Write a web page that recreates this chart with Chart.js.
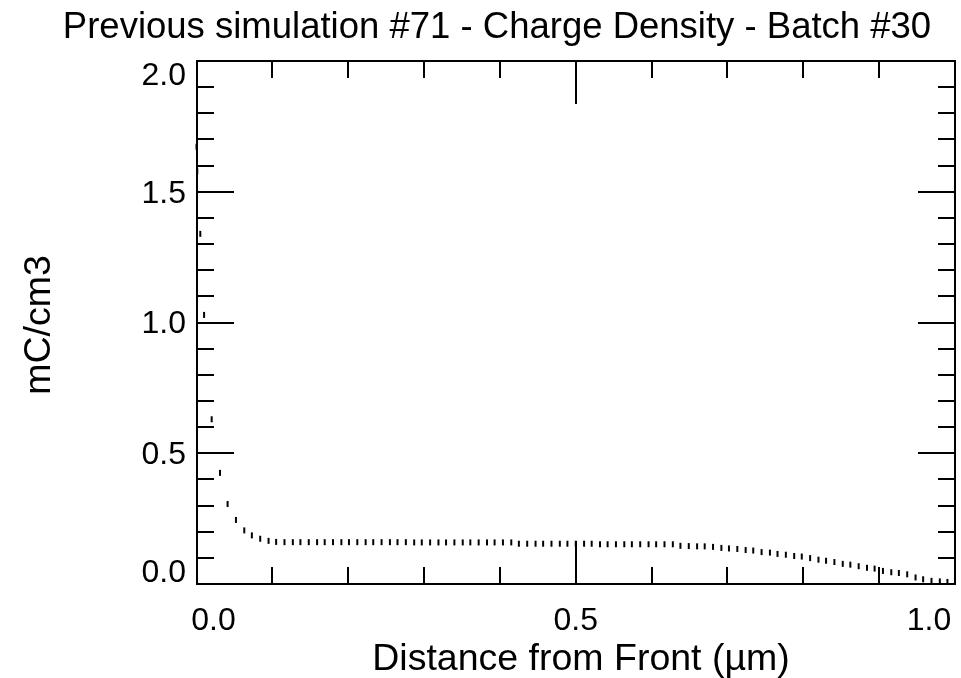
<!DOCTYPE html>
<html>
<head>
<meta charset="utf-8">
<title>Charge Density - Batch #30</title>
<script src="https://cdn.jsdelivr.net/npm/chart.js@4.4.0/dist/chart.umd.min.js"></script>
<style>
    html, body { margin: 0; padding: 0; background: #fff; }
    #chart { display: block; }
</style>
</head>
<body>
<canvas id="chart" width="961" height="678"></canvas>
<script>
// distance from front (um) and charge density (mC/cm3)
const distance = [
    0.000, 0.001, 0.005, 0.010,
    0.020, 0.031, 0.041, 0.052, 0.063, 0.073, 0.084, 0.095, 0.105, 0.116,
    0.127, 0.137, 0.148, 0.159, 0.169, 0.180, 0.191, 0.201, 0.212, 0.223,
    0.233, 0.244, 0.255, 0.265, 0.276, 0.287, 0.297, 0.308, 0.319, 0.329,
    0.340, 0.351, 0.361, 0.372, 0.383, 0.393, 0.404, 0.415, 0.425, 0.436,
    0.447, 0.457, 0.468, 0.479, 0.489, 0.500, 0.511, 0.521, 0.532, 0.542,
    0.553, 0.564, 0.574, 0.585, 0.596, 0.606, 0.617, 0.628, 0.638, 0.649,
    0.660, 0.670, 0.681, 0.692, 0.702, 0.713, 0.724, 0.734, 0.745, 0.756,
    0.766, 0.777, 0.788, 0.798, 0.809, 0.820, 0.830, 0.841, 0.852, 0.862,
    0.873, 0.884, 0.894, 0.905, 0.916, 0.926, 0.937, 0.948, 0.958, 0.969,
    0.980, 0.990
];
const density = [
    1.672, 1.578, 1.339, 1.029,
    0.630, 0.425, 0.306, 0.245, 0.205, 0.186, 0.173, 0.165, 0.161, 0.160,
    0.160, 0.160, 0.160, 0.160, 0.160, 0.160, 0.160, 0.160, 0.160, 0.160,
    0.160, 0.160, 0.160, 0.160, 0.160, 0.159, 0.159, 0.159, 0.159, 0.159,
    0.159, 0.159, 0.159, 0.159, 0.159, 0.159, 0.159, 0.159, 0.154, 0.154,
    0.154, 0.154, 0.154, 0.154, 0.154, 0.154, 0.154, 0.154, 0.152, 0.152,
    0.152, 0.152, 0.152, 0.152, 0.152, 0.152, 0.152, 0.152, 0.146, 0.145,
    0.144, 0.144, 0.142, 0.138, 0.136, 0.134, 0.130, 0.128, 0.122, 0.120,
    0.115, 0.112, 0.107, 0.105, 0.099, 0.093, 0.089, 0.084, 0.077, 0.074,
    0.068, 0.062, 0.059, 0.050, 0.045, 0.042, 0.037, 0.025, 0.018, 0.012,
    0.010, 0.008
];

const xTickValues = [0, 0.1, 0.2, 0.3, 0.4, 0.5, 0.6, 0.7, 0.8, 0.9, 1.0];
const xMajorTicks = [0, 0.5, 1.0];
const xTickLabels = ['0.0', '0.5', '1.0'];

const yTickValues = [0, 0.1, 0.2, 0.3, 0.4, 0.5, 0.6, 0.7, 0.8, 0.9, 1.0,
    1.1, 1.2, 1.3, 1.4, 1.5, 1.6, 1.7, 1.8, 1.9, 2.0];
const yMajorTicks = [0, 0.5, 1.0, 1.5, 2.0];
const yTickLabels = ['0.0', '0.5', '1.0', '1.5', '2.0'];

const chartTitle = 'Previous simulation #71 - Charge Density - Batch #30';
const xTitle = 'Distance from Front (\u00b5m)';
const yTitle = 'mC/cm3';

const FONT = '"Liberation Sans", Arial, Helvetica, sans-serif';

function line(ctx, x1, y1, x2, y2) {
    ctx.beginPath();
    ctx.moveTo(x1, y1);
    ctx.lineTo(x2, y2);
    ctx.stroke();
}

// IDL-style box: frame with inward ticks on all four sides
const idlFrame = {
    id: 'idlFrame',
    beforeDraw(chart) {
        const ctx = chart.ctx;
        ctx.save();
        ctx.fillStyle = '#fff';
        ctx.fillRect(0, 0, chart.width, chart.height);
        ctx.restore();
    },
    beforeDatasetsDraw(chart) {
        const { ctx, chartArea: a, scales: { x, y } } = chart;
        const left = Math.round(a.left), right = Math.round(a.right);
        const top = Math.round(a.top), bottom = Math.round(a.bottom);
        ctx.save();
        ctx.strokeStyle = '#000';
        ctx.lineWidth = 2;
        ctx.lineCap = 'butt';
        ctx.strokeRect(left, top, right - left, bottom - top);

        xTickValues.forEach(v => {
            const px = Math.round(x.getPixelForValue(v));
            const len = xMajorTicks.includes(v) ? 43 : 17;
            line(ctx, px, bottom, px, bottom - len);
            line(ctx, px, top, px, top + len);
        });
        yTickValues.forEach(v => {
            const py = Math.round(y.getPixelForValue(v));
            const len = yMajorTicks.includes(v) ? 37 : 17;
            line(ctx, left, py, left + len, py);
            line(ctx, right, py, right - len, py);
        });
        ctx.restore();
    },
    afterDraw(chart) {
        const { ctx, scales: { x, y } } = chart;
        ctx.save();
        ctx.fillStyle = '#000';
        ctx.textBaseline = 'middle';

        // tick labels (end labels sit inside the box ends, like the original)
        ctx.font = '32px ' + FONT;
        ctx.textAlign = 'center';
        xMajorTicks.forEach((v, i) => {
            let px = x.getPixelForValue(v);
            if (i === 0) px += 17;
            if (i === xMajorTicks.length - 1) px -= 26;
            ctx.fillText(xTickLabels[i], px, 621);
        });
        ctx.textAlign = 'right';
        yMajorTicks.forEach((v, i) => {
            let py = y.getPixelForValue(v) + 2;
            if (i === 0) py -= 13;
            if (i === yMajorTicks.length - 1) py += 13;
            ctx.fillText(yTickLabels[i], 186, py);
        });

        // titles
        ctx.textAlign = 'center';
        ctx.font = '36.5px ' + FONT;
        ctx.fillText(chartTitle, 497, 28);
        ctx.font = '37.5px ' + FONT;
        ctx.fillText(xTitle, 581, 660);
        ctx.translate(40, 325);
        ctx.rotate(-Math.PI / 2);
        ctx.fillText(yTitle, 0, 0);
        ctx.restore();
    }
};

new Chart(document.getElementById('chart'), {
    type: 'scatter',
    data: {
        datasets: [{
            label: 'Charge Density',
            data: distance.map((d, i) => ({ x: d, y: density[i] })),
            showLine: false,
            pointStyle: 'line',
            rotation: 90,
            pointRadius: 3,
            pointBorderWidth: 2,
            borderColor: '#000',
            backgroundColor: '#000',
            clip: false
        }]
    },
    options: {
        responsive: false,
        animation: false,
        events: [],
        layout: { padding: { left: 196.5, right: 2, top: 61, bottom: 94 } },
        plugins: {
            legend: { display: false },
            title: { display: false },
            tooltip: { enabled: false }
        },
        scales: {
            x: { type: 'linear', min: 0, max: 1, display: false },
            y: { type: 'linear', min: 0, max: 2, display: false }
        }
    },
    plugins: [idlFrame]
});
</script>
</body>
</html>
